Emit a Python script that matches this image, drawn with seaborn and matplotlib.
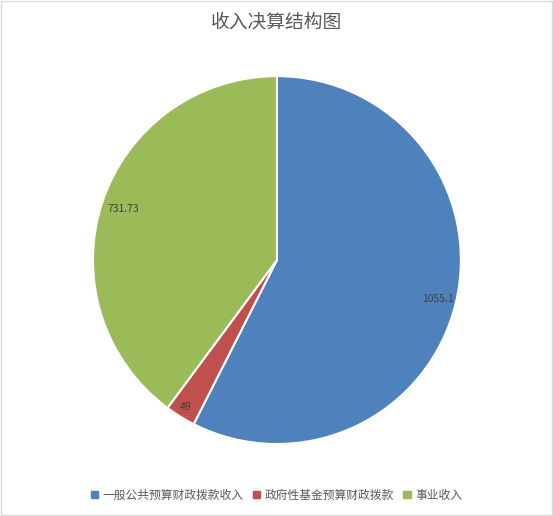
import matplotlib
matplotlib.use("Agg")
import matplotlib.pyplot as plt
import seaborn as sns
import numpy as np
from matplotlib.patches import Rectangle

categories = ["一般公共预算财政拨款收入", "政府性基金预算财政拨款", "事业收入"]
values = [1055.1, 49, 731.73]
value_labels = ["1055.1", "49", "731.73"]
colors = ["#4F81BD", "#C0504D", "#9BBB59"]
title = "收入决算结构图"

sns.set_theme(style="white")
plt.rcParams['font.family'] = ['Noto Sans CJK SC', 'DejaVu Sans']

fig = plt.figure(figsize=(5.53, 5.16), dpi=100)
fig.patch.set_facecolor("white")
ax = fig.add_axes([0.168, 0.1395, 0.6655, 0.713])

wedges, texts = ax.pie(values, colors=colors, startangle=90, counterclock=False,
                       radius=1, wedgeprops=dict(edgecolor="white", linewidth=1.5))
dists = [0.90, 0.94, 0.88]
for w, lab, d in zip(wedges, value_labels, dists):
    ang = np.deg2rad((w.theta1 + w.theta2) / 2)
    ax.text(d * np.cos(ang), d * np.sin(ang), lab, ha="center", va="center",
            fontsize=7.5, color="#404040")
ax.set_xlim(-1, 1)
ax.set_ylim(-1, 1)
ax.set_aspect("equal")
ax.axis("off")

fig.text(0.5, 0.958, title, ha="center", va="center", fontsize=13.5, color="#595959")

handles = [Rectangle((0, 0), 1, 1, color=c) for c in colors]
fig.legend(handles, categories, loc="center", bbox_to_anchor=(0.5, 0.04), ncol=3,
           frameon=False, fontsize=8.5, handlelength=0.6, handleheight=0.6,
           handletextpad=0.4, columnspacing=0.8, labelcolor="#595959")

fig.add_artist(Rectangle((0.001, 0.001), 0.997, 0.997, transform=fig.transFigure,
                         fill=False, edgecolor="#D9D9D9", linewidth=1))

fig.savefig("out.png", dpi=100, facecolor="white")
